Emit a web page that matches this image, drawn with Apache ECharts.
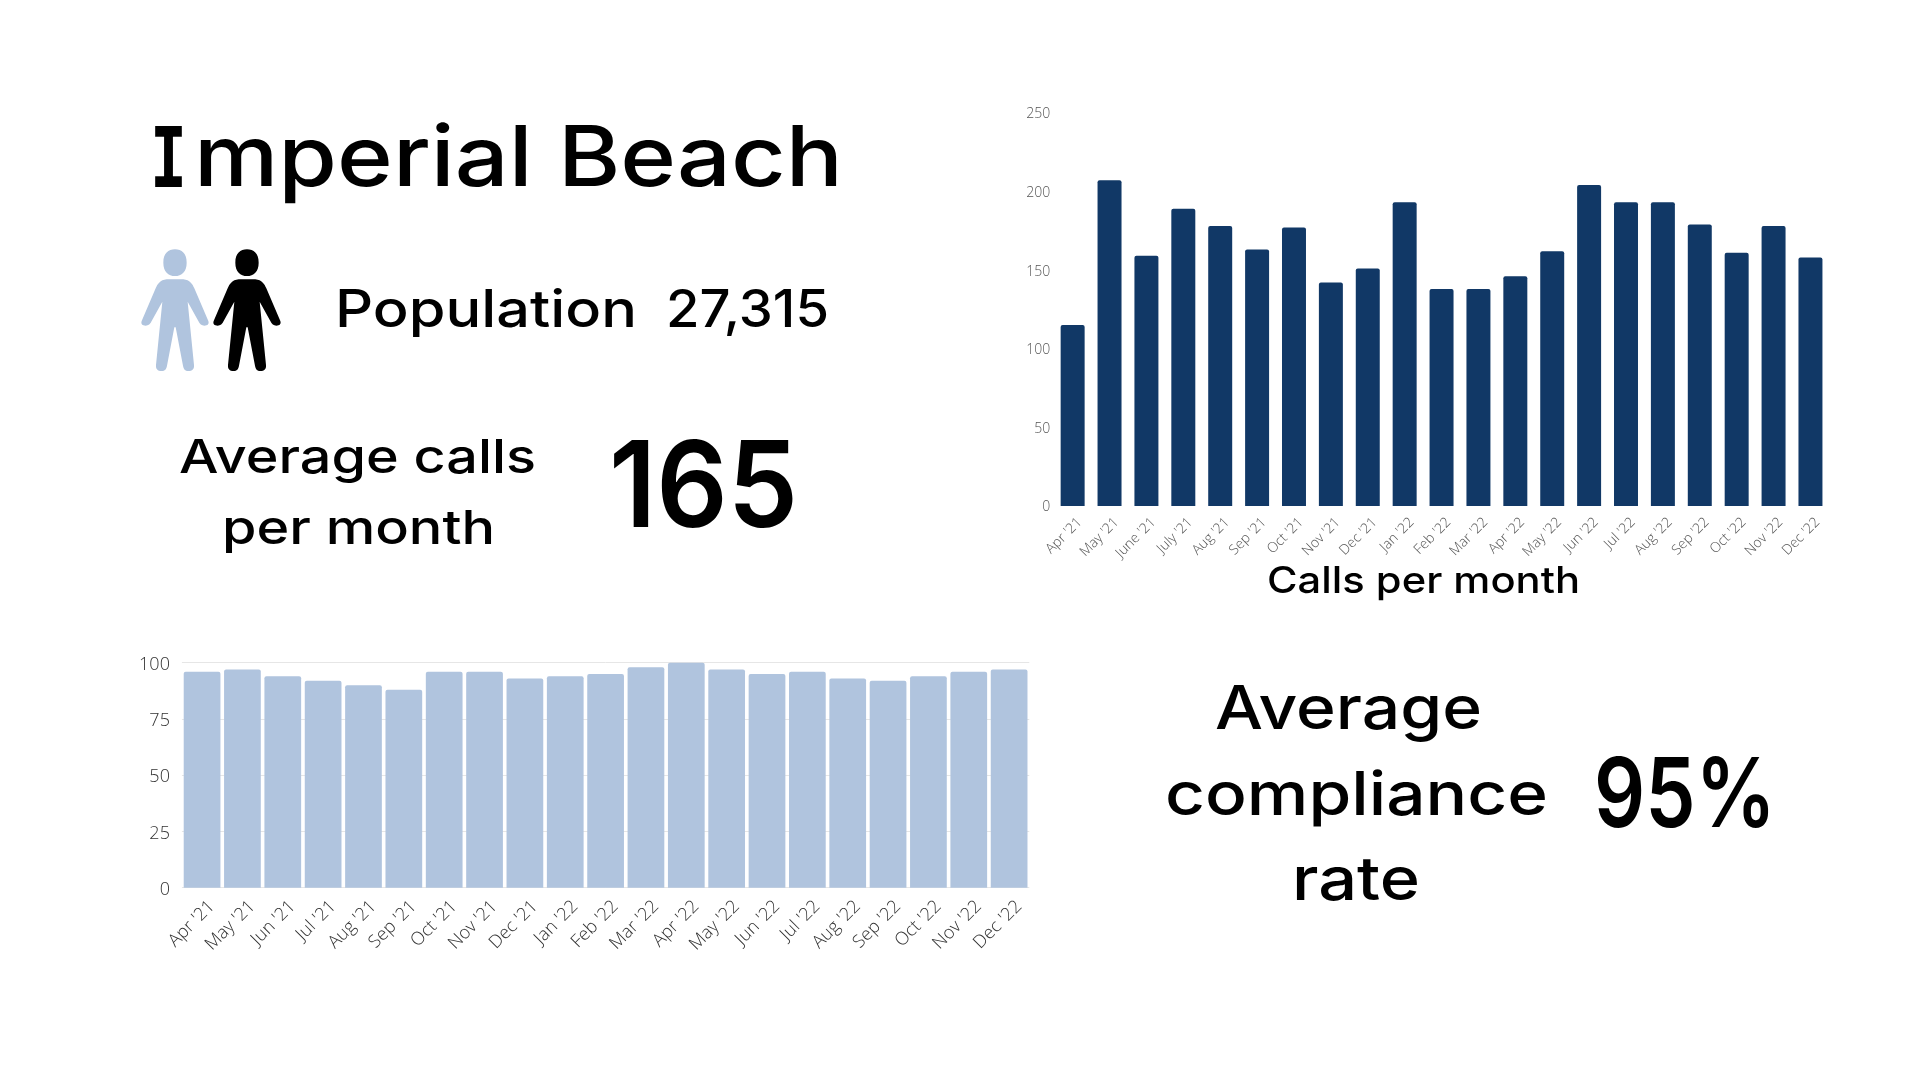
<!DOCTYPE html>
<html><head><meta charset="utf-8">
<style>html,body{margin:0;padding:0;background:#fff}#c{width:1920px;height:1076px}</style>
<script src="https://cdn.jsdelivr.net/npm/echarts@6/dist/echarts.min.js"></script>
</head><body><div id="c"></div>
<script>
const callMonths=["Apr '21","May '21","June '21","July '21","Aug '21","Sep '21","Oct '21","Nov '21","Dec '21","Jan '22","Feb '22","Mar '22","Apr '22","May '22","Jun '22","Jul '22","Aug '22","Sep '22","Oct '22","Nov '22","Dec '22"];
const callValues=[115,207,159,189,178,163,177,142,151,193,138,138,146,162,204,193,193,179,161,178,158];
const complianceMonths=["Apr '21","May '21","Jun '21","Jul '21","Aug '21","Sep '21","Oct '21","Nov '21","Dec '21","Jan '22","Feb '22","Mar '22","Apr '22","May '22","Jun '22","Jul '22","Aug '22","Sep '22","Oct '22","Nov '22","Dec '22"];
const complianceValues=[96,97,94,92,90,88,96,96,93,94,95,98,100,97,95,96,93,92,94,96,97];
const DARK='#113866', LIGHT='#b0c4de', FONT='Inter', AXF='"Open Sans"';
const ctx=document.createElement('canvas').getContext('2d');
function txt(s,x0,x1,base,size,weight,family){
  const f=family||FONT, w=weight||500;
  ctx.font=w+' '+size+'px '+f;
  ctx.textBaseline='middle';
  const m=ctx.measureText(s);
  const sx=(x1-x0)/(m.width);
  return {type:'text',x:x0,y:base+m.alphabeticBaseline,scaleX:sx,silent:true,
    style:{text:s,fontFamily:f,fontSize:size,fontWeight:w,fill:'#000',textAlign:'left',verticalAlign:'middle'}};
}
const head='M-35,68C-35,40 -20,28 0,28C20,28 35,40 35,68C35,95 20,108 0,108C-20,108 -35,95 -35,68Z';
const body='M-25,118L25,118C45,120 52,132 58,145L100,243C103,252 98,257 88,257C80,257 74,252 70,243L38,185L57,375C58,387 52,393 40,393C30,393 26,387 24,377L2,262L-2,262L-24,377C-26,387 -30,393 -40,393C-52,393 -58,387 -57,375L-38,185L-70,243C-74,252 -80,257 -88,257C-98,257 -103,252 -100,243L-58,145C-52,132 -45,120 -25,118Z';
echarts.graphic.registerShape('personIcon',echarts.graphic.extendPath(head+body,{}));
function person(cx,color){
  return {type:'personIcon',x:cx,y:240,scaleX:1/3,scaleY:1/3,silent:true,style:{fill:color}};
}
const chart=echarts.init(document.getElementById('c'),null,{renderer:'canvas'});
function axisLabel(size,color,margin){return {fontFamily:AXF,fontWeight:300,fontSize:size,color:color,margin:margin};}
chart.setOption({
  animation:false,backgroundColor:'#fff',
  grid:[
    {left:1054.2,top:112.7,width:774.7,height:393.3,containLabel:false},
    {left:181.9,top:662.7,width:847.4,height:225,containLabel:false}
  ],
  xAxis:[
    {type:'category',gridIndex:0,data:callMonths,axisTick:{show:false},axisLine:{show:false},
     axisLabel:Object.assign(axisLabel(14,'#555',7),{rotate:45,interval:0,verticalAlign:'top',lineHeight:20})},
    {type:'category',gridIndex:1,data:complianceMonths,axisTick:{show:false},axisLine:{show:false},
     axisLabel:Object.assign(axisLabel(18,'#333',6),{rotate:45,interval:0,verticalAlign:'top',lineHeight:28})}
  ],
  yAxis:[
    {type:'value',gridIndex:0,min:0,max:250,interval:50,axisLine:{show:false},axisTick:{show:false},splitLine:{show:false},
     axisLabel:Object.assign(axisLabel(14,'#555',4),{verticalAlign:'top',lineHeight:3})},
    {type:'value',gridIndex:1,min:0,max:100,interval:25,axisLine:{show:false},axisTick:{show:false},
     splitLine:{show:true,lineStyle:{color:'#e6e6e6',width:1}},
     axisLabel:Object.assign(axisLabel(18,'#333',12),{verticalAlign:'top',lineHeight:4})}
  ],
  series:[
    {type:'bar',xAxisIndex:0,yAxisIndex:0,data:callValues,barWidth:'65%',itemStyle:{color:DARK,borderRadius:[2,2,0,0]}},
    {type:'bar',xAxisIndex:1,yAxisIndex:1,data:complianceValues,barWidth:'91%',itemStyle:{color:LIGHT,borderRadius:[2,2,0,0]}}
  ],
  graphic:[
    txt('I',150,187,187,84,700,'"DejaVu Sans Mono"'),
    txt('mperial Beach',194,843,186,84),
    person(175,LIGHT),person(247,'#000'),
    txt('Population',335,637,327,52),
    txt('27,315',666,829,327,52),
    txt('Average calls',179,536,473,47),
    txt('per month',222,495,544,47),
    txt('165',609,798,527,120,600),
    txt('Calls per month',1267,1580,593,37),
    txt('Average',1215,1482,729,60),
    txt('compliance',1165,1548,815,60),
    txt('rate',1292,1420,900,60),
    txt('95%',1594,1776,827,96,600)
  ]
});
</script></body></html>
